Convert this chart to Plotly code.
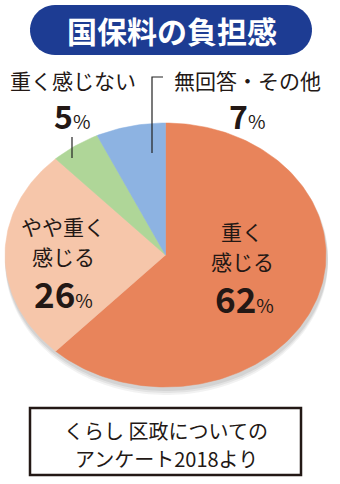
import numpy as np
import plotly.graph_objects as go

# ---- data ----
categories = ["重く感じる", "やや重く感じる", "重く感じない", "無回答・その他"]
values = [62, 26, 5, 7]
label_lines = [["重く", "感じる"], ["やや重く", "感じる"], ["重く感じない"], ["無回答・その他"]]
title_text = "国保料の負担感"
source_lines = ["くらし 区政についての", "アンケート2018より"]

colors = ["#E8845B", "#F6C6AA", "#AFD698", "#8DB3E2"]
FONT = "Noto Sans CJK JP"
INK = "#231815"

W, H = 340, 484
cx, cy, rx, ry = 165.5, 255, 160.5, 132

fig = go.Figure()

# shadow
for off, a in [(7, 0.05), (5, 0.06), (3, 0.07)]:
    t = np.linspace(0, 2 * np.pi, 200)
    fig.add_trace(go.Scatter(x=cx + 1 + (rx + 1) * np.sin(t), y=cy + off - (ry + 1) * np.cos(t),
                             fill="toself", fillcolor=f"rgba(0,0,0,{a})", mode="none",
                             hoverinfo="skip", showlegend=False))

# slices (elliptical pie, clockwise from 12 o'clock)
total = sum(values)
start = 0.0
for v, c, name in zip(values, colors, categories):
    a0 = start / total * 2 * np.pi
    a1 = (start + v) / total * 2 * np.pi
    t = np.linspace(a0, a1, max(4, int(v * 3)))
    xs = np.concatenate([[cx], cx + rx * np.sin(t), [cx]])
    ys = np.concatenate([[cy], cy - ry * np.cos(t), [cy]])
    fig.add_trace(go.Scatter(x=xs, y=ys, fill="toself", fillcolor=c, mode="lines",
                             line=dict(color=c, width=0.5), name=name,
                             hoverinfo="name", showlegend=False))
    start += v

# leader lines
fig.add_trace(go.Scatter(x=[163, 152, 152], y=[77, 77, 153], mode="lines",
                         line=dict(color="#222", width=1.2), hoverinfo="skip", showlegend=False))
fig.add_trace(go.Scatter(x=[72, 72], y=[137, 158], mode="lines",
                         line=dict(color="#222", width=1.2), hoverinfo="skip", showlegend=False))

def pct(v, big, small):
    return (f"<b><span style='font-size:{big}px'>{v}</span></b>"
            f"<span style='font-size:{small}px'>%</span>")

# label positions (styling)
lab_pos = [(242, 231), (63, 226), (73, 80), (247, 80)]
num_pos = [(244, 297), (63, 292), (72, 115), (247, 115)]
num_big = [35, 35, 32, 32]
line_gap = 30

annotations = []
for i in range(4):
    for j, ln in enumerate(label_lines[i]):
        annotations.append(dict(x=lab_pos[i][0], y=lab_pos[i][1] + j * line_gap, xref="x", yref="y",
                                text=ln, showarrow=False,
                                font=dict(family=FONT, size=21, color=INK)))
    annotations.append(dict(x=num_pos[i][0], y=num_pos[i][1], xref="x", yref="y",
                            text=pct(values[i], num_big[i], 19), showarrow=False,
                            font=dict(family=FONT, size=19, color=INK)))

# title
annotations.append(dict(x=172, y=30, xref="x", yref="y", text=f"<b>{title_text}</b>",
                        showarrow=False, font=dict(family=FONT, size=30, color="white")))
# source
for j, ln in enumerate(source_lines):
    annotations.append(dict(x=166, y=430 + j * 28, xref="x", yref="y", text=ln,
                            showarrow=False,
                            font=dict(family=FONT, size=20, color=INK)))

# title pill built from points
x0, x1, y0, y1 = 30, 312, 5, 55
r = (y1 - y0) / 2
pts = []
for a in np.linspace(-np.pi / 2, np.pi / 2, 24):   # right cap
    pts.append((x1 - r + r * np.cos(a), y0 + r + r * np.sin(a)))
for a in np.linspace(np.pi / 2, 3 * np.pi / 2, 24):  # left cap
    pts.append((x0 + r + r * np.cos(a), y0 + r + r * np.sin(a)))
path = "M " + " L ".join(f"{px:.2f},{py:.2f}" for px, py in pts) + " Z"

shapes = [
    dict(type="path", path=path, xref="x", yref="y", fillcolor="#1D3C93",
         line=dict(width=0), layer="below"),
    dict(type="rect", x0=30, x1=301, y0=408, y1=475, xref="x", yref="y",
         line=dict(color=INK, width=2.5), fillcolor="white", layer="below"),
]

fig.update_layout(
    width=W, height=H, margin=dict(l=0, r=0, t=0, b=0),
    paper_bgcolor="white", plot_bgcolor="white",
    xaxis=dict(range=[0, W], visible=False, fixedrange=True),
    yaxis=dict(range=[H, 0], visible=False, fixedrange=True),
    annotations=annotations, shapes=shapes, showlegend=False,
)

fig.write_html("out.html")
